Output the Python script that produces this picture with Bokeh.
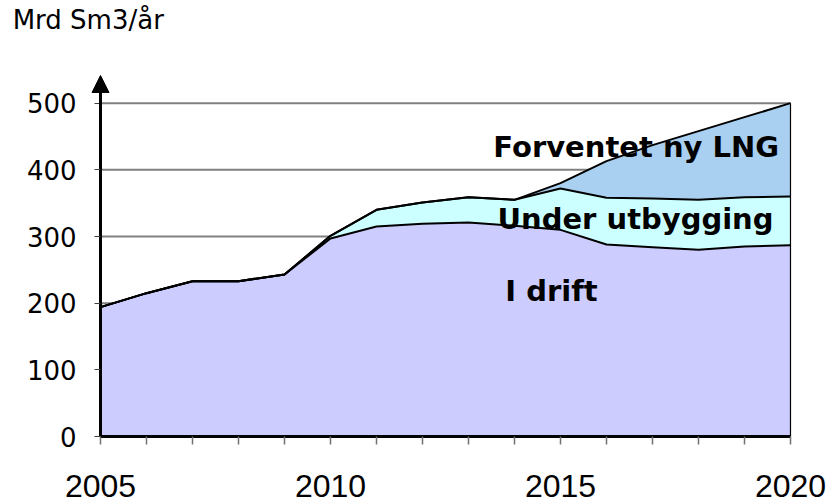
from bokeh.plotting import figure
from bokeh.models import (ColumnDataSource, FixedTicker, Label, LabelSet, Arrow,
                          NormalHead, Range1d)
from bokeh.core.properties import value
from bokeh.embed import file_html
from bokeh.resources import INLINE

# ---- data ----
years = list(range(2005, 2021))
i_drift = [194, 215, 233, 233, 243, 297, 315, 319, 321, 316, 310, 288, 284, 280, 285, 287]
under_utbygging = [0, 0, 0, 0, 0, 4, 25, 32, 38, 39, 62, 70, 73, 75, 74, 73]
forventet_lng = [0, 0, 0, 0, 0, 0, 0, 0, 0, 0, 8, 55, 80, 103, 120, 140]
y_ticks = [0, 100, 200, 300, 400, 500]
x_label_years = [2005, 2010, 2015, 2020]
series_names = ["I drift", "Under utbygging", "Forventet ny LNG"]
unit_label = "Mrd Sm3/år"

src = ColumnDataSource(dict(year=years, drift=i_drift, under=under_utbygging, lng=forventet_lng))

p = figure(width=833, height=502, output_backend="svg", toolbar_location=None,
           x_range=Range1d(2002.826, 2020.935), y_range=Range1d(-99, 654),
           min_border=0)
p.outline_line_color = None
p.background_fill_color = "white"
p.xgrid.visible = False
p.ygrid.visible = False

# horizontal gridlines between first and last year
grid_y = y_ticks[1:]
p.segment(x0=[years[0]] * len(grid_y), x1=[years[-1]] * len(grid_y), y0=grid_y, y1=grid_y,
          line_color="#808080", line_width=2)

# stacked areas
p.varea_stack(["drift", "under", "lng"], x="year", source=src,
              color=["#CCCCFF", "#CCFFFF", "#A9D0F0"])
# outlines on each stacked boundary
p.vline_stack(["drift", "under", "lng"], x="year", source=src,
              color="black", line_width=2)
# right edge of the area
p.segment(x0=[years[-1]], y0=[0], x1=[years[-1]],
          y1=[i_drift[-1] + under_utbygging[-1] + forventet_lng[-1]],
          line_color="black", line_width=1.2)

# y axis
p.yaxis.fixed_location = years[0]
p.yaxis.bounds = (0, 500)
p.yaxis.ticker = FixedTicker(ticks=y_ticks)
p.yaxis.axis_line_width = 3
p.yaxis.axis_line_color = "black"
p.yaxis.major_tick_out = 6
p.yaxis.major_tick_in = 0
p.yaxis.major_tick_line_color = "#404040"
p.yaxis.minor_tick_line_color = None
p.yaxis.major_label_text_font = "DejaVu Sans"
p.yaxis.major_label_text_font_size = "26px"
p.yaxis.major_label_text_color = "black"
p.yaxis.major_label_standoff = 18

# x axis (labels drawn separately)
p.xaxis.fixed_location = 0
p.xaxis.bounds = (years[0], years[-1])
p.xaxis.ticker = FixedTicker(ticks=years)
p.xaxis.axis_line_width = 3
p.xaxis.axis_line_color = "black"
p.xaxis.major_tick_out = 8
p.xaxis.major_tick_in = 0
p.xaxis.major_tick_line_color = "#707070"
p.xaxis.major_tick_line_width = 1.5
p.xaxis.minor_tick_line_color = None
p.xaxis.major_label_text_font_size = "1px"
p.xaxis.major_label_text_color = None

lab_src = ColumnDataSource(dict(x=x_label_years, y=[-90] * len(x_label_years),
                                t=[str(v) for v in x_label_years]))
p.add_layout(LabelSet(x="x", y="y", text="t", source=lab_src, text_align="center",
                      text_baseline="alphabetic", text_font=value("Liberation Sans"),
                      text_font_size=value("32px"), text_color="black"))

# arrow head on y axis
p.add_layout(Arrow(end=NormalHead(size=17, fill_color="black", line_color="black"),
                   x_start=2005, y_start=490, x_end=2005, y_end=541.5,
                   line_width=3, line_color="black"))

# unit label
p.add_layout(Label(x=2003.09, y=625, text=unit_label, text_font="DejaVu Sans",
                   text_font_size="26px", text_baseline="alphabetic", text_color="black"))

# series labels
for name, x, y in zip(series_names, [2013.8, 2013.63, 2013.54], [218, 326, 435]):
    p.add_layout(Label(x=x, y=y, text=name, text_font="DejaVu Sans",
                       text_font_size="29px", text_font_style="bold",
                       text_baseline="alphabetic", text_color="black"))

open("out.html", "w").write(file_html(p, INLINE))
